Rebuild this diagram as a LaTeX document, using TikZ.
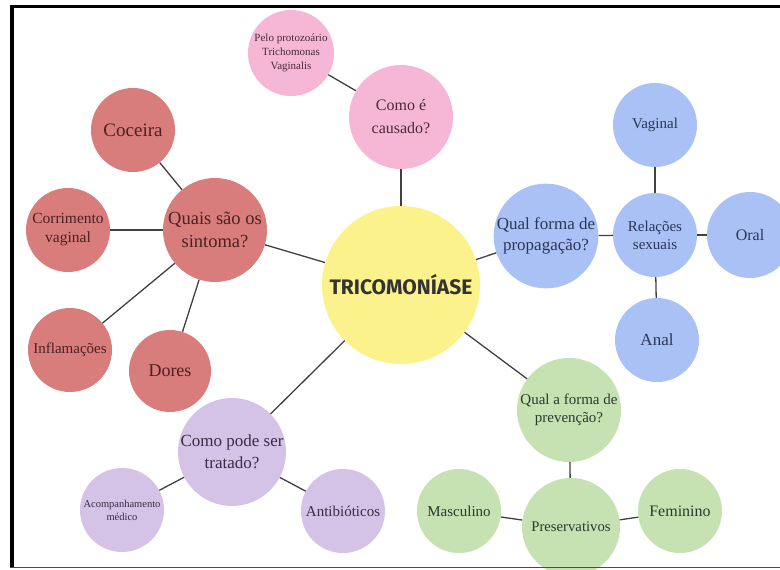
\documentclass[tikz,border=0pt]{standalone}
\usepackage{fontspec}
\setmainfont{Liberation Serif}
\newfontfamily\titlefont{Fira Sans}
\definecolor{yellowfill}{HTML}{FCF28C}
\definecolor{pinkfill}{HTML}{F6B7D6}
\definecolor{redfill}{HTML}{D97C7C}
\definecolor{bluefill}{HTML}{A9C1F5}
\definecolor{greenfill}{HTML}{C6E1B2}
\definecolor{purplefill}{HTML}{D5C2E7}
\definecolor{pinktext}{HTML}{4A2A38}
\definecolor{redtext}{HTML}{4A2222}
\definecolor{bluetext}{HTML}{2C3758}
\definecolor{greentext}{HTML}{2C3A2A}
\definecolor{purpletext}{HTML}{3A2B45}
\definecolor{linkcol}{HTML}{404040}
\newcommand{\fsz}[2]{\fontsize{#1}{#2}\selectfont}
\begin{document}
\begin{tikzpicture}[x=1pt,y=-1pt,
  bubble/.style={circle,inner sep=0pt,align=center},
  bigb/.style={bubble,minimum size=104pt},
  leafb/.style={bubble,minimum size=84pt},
  hub/.style={bubble,minimum size=158pt,fill=yellowfill,text=black!80},
  pinkb/.style={fill=pinkfill,text=pinktext},
  redb/.style={fill=redfill,text=redtext},
  blueb/.style={fill=bluefill,text=bluetext},
  greenb/.style={fill=greenfill,text=greentext},
  purpleb/.style={fill=purplefill,text=purpletext},
  link/.style={draw=linkcol,line width=1.3pt}]
\useasboundingbox (0,0) rectangle (780,570);
\clip (0,0) rectangle (780,570);

% central topic
\node[hub,font=\titlefont\bfseries\fsz{21}{25}] (hub) at (401,285) {TRICOMONÍASE};

% cause
\node[bigb,pinkb,font=\fsz{16}{23}] (cause) at (401,117) {Como é\\causado?};
\node[bubble,minimum size=86pt,pinkb,font=\fsz{11}{14}] (agent) at (291,53) {Pelo protozoário\\Trichomonas\\Vaginalis};

% symptoms
\node[bigb,redb,font=\fsz{18.5}{23}] (symp) at (215,230) {Quais são os\\sintoma?};
\node[leafb,redb,font=\fsz{19}{22}] (itch) at (133,130) {Coceira};
\node[leafb,redb,font=\fsz{15.5}{19}] (disch) at (68,230) {Corrimento\\vaginal};
\node[leafb,redb,font=\fsz{15}{18}] (infl) at (70,350) {Inflamações};
\node[bubble,minimum size=82pt,redb,font=\fsz{18}{21}] (pain) at (170,371) {Dores};

% transmission
\node[bigb,blueb,font=\fsz{17}{21}] (prop) at (546,236) {Qual forma de\\propagação?};
\node[leafb,blueb,font=\fsz{15}{18}] (sex) at (655,235) {Relações\\sexuais};
\node[leafb,blueb,font=\fsz{15}{18}] (vag) at (655,125) {Vaginal};
\node[bubble,minimum size=86pt,blueb,font=\fsz{16}{19}] (oral) at (750,235) {Oral};
\node[leafb,blueb,font=\fsz{17}{20}] (anal) at (657,340) {Anal};

% prevention
\node[bigb,greenb,font=\fsz{15}{18}] (prev) at (569,410) {Qual a forma de\\prevenção?};
\node[bubble,minimum size=98pt,greenb,font=\fsz{14.7}{18}] (cond) at (571,527) {Preservativos};
\node[leafb,greenb,font=\fsz{15}{18}] (male) at (459,511) {Masculino};
\node[leafb,greenb,font=\fsz{16}{19}] (female) at (680,511) {Feminino};

% treatment
\node[bigb,purpleb,font=\fsz{17}{22}] (treat) at (232,452) {Como pode ser\\tratado?};
\node[leafb,purpleb,font=\fsz{10.5}{13}] (follow) at (122,510) {Acompanhamento\\médico};
\node[leafb,purpleb,font=\fsz{15}{18}] (antib) at (343,511) {Antibióticos};

% connectors
\draw[link] (hub) -- (cause);
\draw[link] (cause) -- (agent);
\draw[link] (hub) -- (symp);
\draw[link] (symp) -- (itch);
\draw[link] (symp) -- (disch);
\draw[link] (symp) -- (infl);
\draw[link] (symp) -- (pain);
\draw[link] (hub) -- (prop);
\draw[link] (prop) -- (sex);
\draw[link] (sex) -- (vag);
\draw[link] (sex) -- (oral);
\draw[link] (sex) -- (anal);
\draw[link] (hub) -- (prev);
\draw[link] (prev) -- (cond);
\draw[link] (cond) -- (male);
\draw[link] (cond) -- (female);
\draw[link] (hub) -- (treat);
\draw[link] (treat) -- (follow);
\draw[link] (treat) -- (antib);

% frame
\draw[line width=3pt,black] (10,6.5) -- (782,6.5);
\draw[line width=3.5pt,black] (12,5) -- (12,568);
\draw[line width=1.5pt,black!70] (10,567.7) -- (782,567.7);
\end{tikzpicture}
\end{document}
